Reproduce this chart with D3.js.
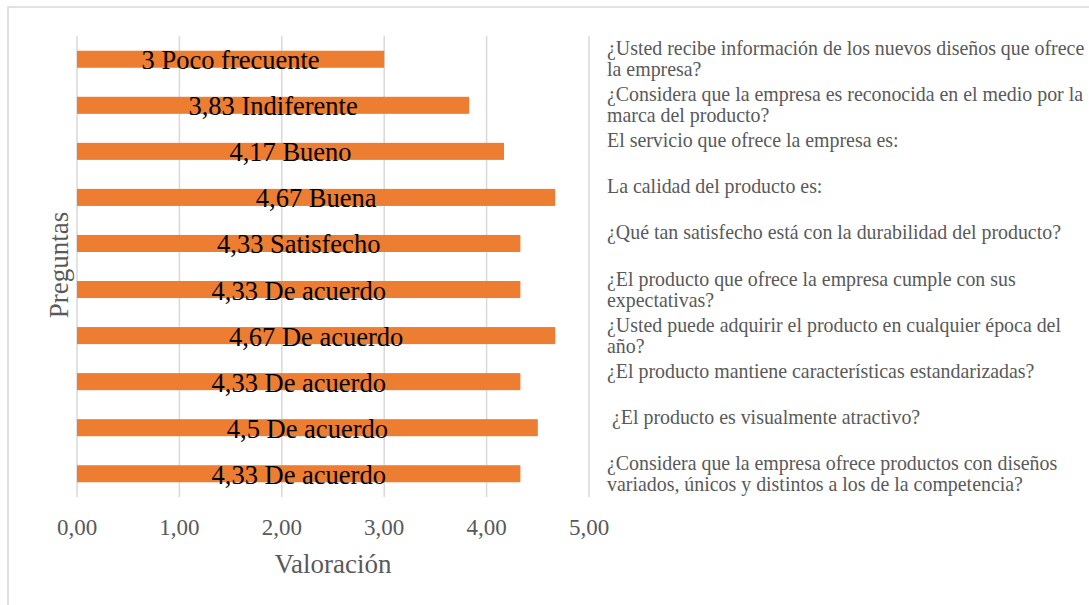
<!DOCTYPE html>
<html>
<head>
<meta charset="utf-8">
<script src="https://cdn.jsdelivr.net/npm/d3@7"></script>
<style>
  body { margin: 0; background: #fff; }
  text { font-family: "Liberation Serif", "Times New Roman", serif; }
</style>
</head>
<body>
<script>
// data, top bar first
var valores = [3, 3.83, 4.17, 4.67, 4.33, 4.33, 4.67, 4.33, 4.5, 4.33];
var etiquetas = ["3 Poco frecuente", "3,83 Indiferente", "4,17 Bueno", "4,67 Buena",
    "4,33 Satisfecho", "4,33 De acuerdo", "4,67 De acuerdo", "4,33 De acuerdo",
    "4,5 De acuerdo", "4,33 De acuerdo"];
var preguntas = [
    ["¿Usted recibe información de los nuevos diseños que ofrece", "la empresa?"],
    ["¿Considera que la empresa es reconocida en el medio por la", "marca del producto?"],
    ["El servicio que ofrece la empresa es:", ""],
    ["La calidad del producto es:", ""],
    ["¿Qué tan satisfecho está con la durabilidad del producto?", ""],
    ["¿El producto que ofrece la empresa cumple con sus", "expectativas?"],
    ["¿Usted puede adquirir el producto en cualquier época del", "año?"],
    ["¿El producto mantiene características estandarizadas?", ""],
    [" ¿El producto es visualmente atractivo?", ""],
    ["¿Considera que la empresa ofrece productos con diseños", "variados, únicos y distintos a los de la competencia?"]
];
var ticks = [0, 1, 2, 3, 4, 5];

var width = 1089, height = 605;
var svg = d3.select("body")
    .append("svg")
    .attr("width", width)
    .attr("height", height);

// outer chart border
svg.append("rect")
    .attr("x", 8).attr("y", 7)
    .attr("width", 1100).attr("height", 620)
    .attr("fill", "none")
    .attr("stroke", "#d9d9d9")
    .attr("stroke-width", 1.5);

var x = d3.scaleLinear().domain([0, 5]).range([77, 589]);
var y = d3.scaleBand().domain(d3.range(valores.length)).range([36, 497]).paddingInner(0.63).paddingOuter(0.32);

// gridlines
svg.append("g").selectAll("line")
    .data(ticks)
    .enter().append("line")
    .attr("x1", d => x(d)).attr("x2", d => x(d))
    .attr("y1", 36).attr("y2", 497)
    .attr("stroke", "#d9d9d9")
    .attr("stroke-width", 1.5);

// tick labels
svg.append("g").selectAll("text")
    .data(ticks)
    .enter().append("text")
    .attr("x", d => x(d))
    .attr("y", 535)
    .attr("text-anchor", "middle")
    .attr("fill", "#595959")
    .attr("font-size", 23)
    .text(d => d3.format(".2f")(d).replace(".", ","));

// bars
svg.append("g").selectAll("rect")
    .data(valores)
    .enter().append("rect")
    .attr("x", x(0))
    .attr("y", (d, i) => y(i))
    .attr("width", d => x(d) - x(0))
    .attr("height", y.bandwidth())
    .attr("fill", "#ED7D31");

// bar labels
svg.append("g").selectAll("text")
    .data(valores)
    .enter().append("text")
    .attr("x", d => (x(0) + x(d)) / 2)
    .attr("y", (d, i) => y(i) + y.bandwidth() / 2 + 10)
    .attr("text-anchor", "middle")
    .attr("fill", "#000")
    .attr("font-size", 26.5)
    .text((d, i) => etiquetas[i]);

// category labels on the right
var cat = svg.append("g").selectAll("text")
    .data(preguntas)
    .enter().append("text")
    .attr("fill", "#595959")
    .attr("font-size", 19.9);
cat.selectAll("tspan")
    .data((d, i) => d.map(t => ({t: t, i: i})))
    .enter().append("tspan")
    .attr("x", 607)
    .attr("y", (d, j) => y(d.i) + y.bandwidth() / 2 - 4 + j * 21)
    .attr("xml:space", "preserve")
    .style("white-space", "pre")
    .text(d => d.t);

// axis titles
svg.append("text")
    .attr("transform", "translate(68,265) rotate(-90)")
    .attr("text-anchor", "middle")
    .attr("fill", "#595959")
    .attr("font-size", 27)
    .text("Preguntas");

svg.append("text")
    .attr("x", 333)
    .attr("y", 573)
    .attr("text-anchor", "middle")
    .attr("fill", "#595959")
    .attr("font-size", 27)
    .text("Valoración");
</script>
</body>
</html>
